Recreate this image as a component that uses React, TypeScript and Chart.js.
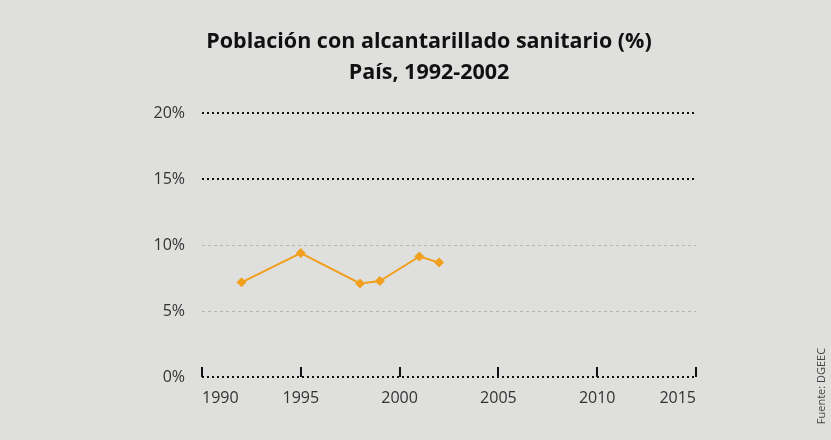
import React, { useEffect, useRef } from "react";
import { Chart, registerables } from "chart.js";

Chart.register(...registerables);

const years = [1992, 1995, 1998, 1999, 2001, 2002];
const values = [7.18, 9.4, 7.1, 7.28, 9.14, 8.69];
const titleLines = ["Población con alcantarillado sanitario (%)", "País, 1992-2002"];
const sourceText = "Fuente: DGEEC";
const xMin = 1990;
const xMax = 2015;
const xStep = 5;
const yMin = 0;
const yMax = 20;
const yStep = 5;
const lightGridValues = [5, 10];

const FONT = "'Open Sans', 'Noto Sans', sans-serif";
const ORANGE = "#f0a01e";
const BG = "#dfdfdd";

const sourcePlugin = {
  id: "sourceText",
  afterDraw(chart: any) {
    const ctx = chart.ctx;
    ctx.save();
    ctx.translate(chart.width - 9, chart.height - 54);
    ctx.rotate(-Math.PI / 2);
    ctx.font = `11px ${FONT}`;
    ctx.fillStyle = "#444";
    ctx.textAlign = "center";
    ctx.textBaseline = "middle";
    ctx.fillText(sourceText, 0, 0);
    ctx.restore();
  },
};

export default function App() {
  const ref = useRef<HTMLCanvasElement | null>(null);

  useEffect(() => {
    document.body.style.margin = "0";
    const canvas = ref.current;
    if (!canvas) return;
    const chart = new Chart(canvas, {
      type: "line",
      data: {
        datasets: [
          {
            data: years.map((y, i) => ({ x: y, y: values[i] })),
            borderColor: ORANGE,
            backgroundColor: ORANGE,
            borderWidth: 2,
            pointStyle: "rectRot",
            pointRadius: 4.5,
            pointBorderWidth: 1,
            pointBackgroundColor: ORANGE,
            pointBorderColor: ORANGE,
            tension: 0,
            fill: false,
          },
        ],
      },
      options: {
        animation: false,
        responsive: false,
        maintainAspectRatio: false,
        layout: { padding: { left: 27, right: 0, top: 0, bottom: 23 } },
        plugins: {
          legend: { display: false },
          tooltip: { enabled: false },
          title: {
            display: true,
            text: titleLines,
            color: "#111",
            font: { family: FONT, size: 21.5, weight: "bold", lineHeight: 1.45 },
            padding: { top: 26, bottom: 25 },
          },
        },
        scales: {
          x: {
            type: "linear",
            min: xMin,
            max: xMax,
            afterFit: (s: any) => {
              s.height = 40;
            },
            ticks: {
              stepSize: xStep,
              align: "inner",
              padding: 22,
              color: "#333",
              font: { family: FONT, size: 16 },
              callback: (v: any) => String(v),
              maxRotation: 0,
            },
            grid: {
              drawOnChartArea: false,
              drawTicks: true,
              tickLength: -10,
              color: "#111",
              lineWidth: 2,
            },
            border: { display: false },
          },
          y: {
            min: yMin,
            max: yMax,
            afterFit: (s: any) => {
              s.width = 175;
            },
            ticks: {
              stepSize: yStep,
              padding: 17,
              color: "#333",
              font: { family: FONT, size: 16 },
              callback: (v: any) => `${v}%`,
            },
            grid: {
              drawTicks: false,
              color: (c: any) => (lightGridValues.includes(c.tick?.value) ? "#b4b4b4" : "#111"),
              lineWidth: (c: any) => (lightGridValues.includes(c.tick?.value) ? 1 : 2),
            },
            border: {
              display: false,
              dash: (c: any) => (lightGridValues.includes(c.tick?.value) ? [3, 3] : [2, 3]),
            },
          },
          side: {
            type: "linear",
            position: "right",
            min: yMin,
            max: yMax,
            afterFit: (s: any) => {
              s.width = 135;
            },
            ticks: { display: false },
            grid: { display: false },
            border: { display: false },
          },
        },
      } as any,
      plugins: [sourcePlugin],
    });
    return () => chart.destroy();
  }, []);

  return (
    <div style={{ width: 831, height: 440, background: BG }}>
      <canvas ref={ref} width={831} height={440} style={{ display: "block" }} />
    </div>
  );
}
